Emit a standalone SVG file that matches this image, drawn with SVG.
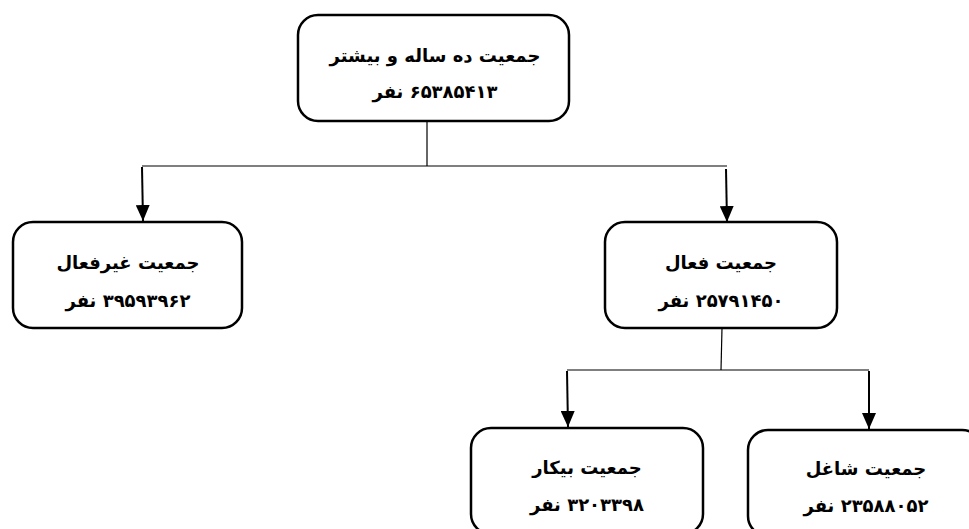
<svg xmlns="http://www.w3.org/2000/svg" width="969" height="529" viewBox="0 0 969 529">
  <style>
    .box { fill: #ffffff; stroke: #000000; stroke-width: 2.5; }
    .label { font-family: "DejaVu Sans", "Noto Sans", sans-serif; font-weight: bold; font-size: 18px; fill: #000000; text-anchor: middle; direction: rtl; unicode-bidi: embed; }
    .thin { fill: none; stroke: #000000; stroke-width: 1.2; }
    .arrow { fill: none; stroke: #000000; stroke-width: 2; marker-end: url(#head); }
  </style>
  <defs>
    <!-- filled triangular arrowhead, tip at the end of the line -->
    <marker id="head" markerUnits="userSpaceOnUse" markerWidth="16" markerHeight="14" refX="16" refY="7" orient="auto" viewBox="0 0 16 14">
      <path d="M0,0 L16,7 L0,14 Z" fill="#000000"/>
    </marker>
  </defs>
  <rect width="969" height="529" fill="#ffffff"/>

  <!-- connectors -->
  <g id="connectors">
    <line class="thin" x1="427" y1="121" x2="427" y2="166"/>
    <line class="thin" x1="142" y1="166" x2="727" y2="166"/>
    <line class="arrow" x1="142" y1="167" x2="143" y2="221"/>
    <line class="arrow" x1="726" y1="169" x2="727" y2="222"/>
    <line class="thin" x1="722" y1="328" x2="721" y2="370"/>
    <line class="thin" x1="567" y1="370" x2="869" y2="370"/>
    <line class="arrow" x1="567" y1="371" x2="568" y2="427"/>
    <line class="arrow" x1="869" y1="371" x2="869" y2="429"/>
  </g>

  <!-- total population aged ten and over -->
  <g id="node-total">
    <rect class="box" x="298" y="15" width="271" height="106" rx="20"/>
    <text class="label" x="435" y="62">جمعیت ده ساله و بیشتر</text>
    <text class="label" x="435" y="98">۶۵۳۸۵۴۱۳ نفر</text>
  </g>

  <!-- economically inactive -->
  <g id="node-inactive">
    <rect class="box" x="13" y="222" width="229" height="106" rx="20"/>
    <text class="label" x="128" y="269">جمعیت غیرفعال</text>
    <text class="label" x="128" y="307">۳۹۵۹۳۹۶۲ نفر</text>
  </g>

  <!-- economically active -->
  <g id="node-active">
    <rect class="box" x="605" y="222" width="232" height="106" rx="20"/>
    <text class="label" x="721" y="269">جمعیت فعال</text>
    <text class="label" x="721" y="307">۲۵۷۹۱۴۵۰ نفر</text>
  </g>

  <!-- unemployed -->
  <g id="node-unemployed">
    <rect class="box" x="471" y="428" width="232" height="106" rx="20"/>
    <text class="label" x="587" y="474">جمعیت بیکار</text>
    <text class="label" x="587" y="511">۳۲۰۳۳۹۸ نفر</text>
  </g>

  <!-- employed -->
  <g id="node-employed">
    <rect class="box" x="748" y="430" width="234" height="106" rx="20"/>
    <text class="label" x="866" y="475">جمعیت شاغل</text>
    <text class="label" x="866" y="512">۲۳۵۸۸۰۵۲ نفر</text>
  </g>
</svg>
